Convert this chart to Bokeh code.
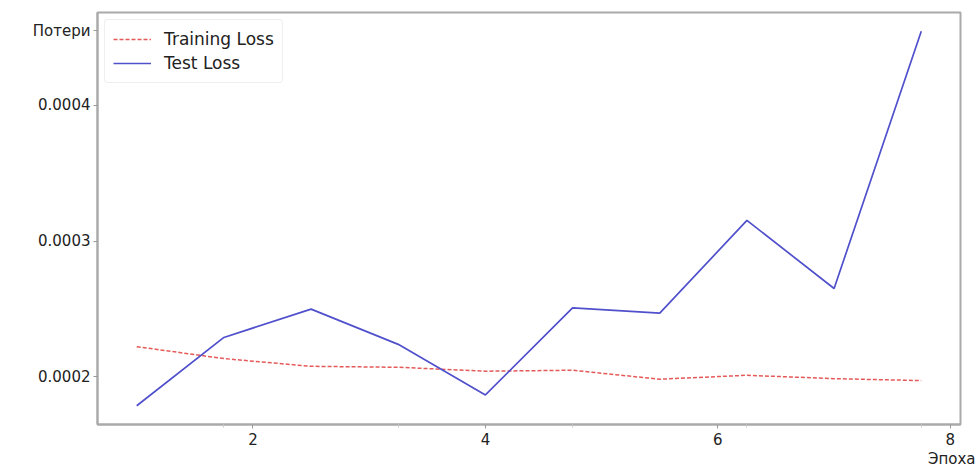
from bokeh.plotting import figure
from bokeh.models import Range1d, FixedTicker, Legend, LegendItem, CustomJSTickFormatter, Title
from bokeh.embed import file_html
from bokeh.resources import INLINE

epochs = [1.0, 1.75, 2.5, 3.25, 4.0, 4.75, 5.5, 6.25, 7.0, 7.75]
training_loss = [0.0002221, 0.0002133, 0.0002076, 0.0002069, 0.0002040,
                 0.0002047, 0.0001981, 0.0002010, 0.0001985, 0.0001971]
test_loss = [0.0001785, 0.0002289, 0.0002498, 0.0002238, 0.0001865,
             0.0002507, 0.0002468, 0.0003152, 0.0002650, 0.0004547]
x_ticks = [2, 4, 6, 8]
x_minor = [1.75, 3.25, 4.75, 6.25, 7.75]
y_ticks = [0.0002, 0.0003, 0.0004]
y_label = "Потери"
x_label = "Эпоха"

FONT = "DejaVu Sans"
Y_MIN, Y_MAX = 0.0001647, 0.0004685
# the y-axis title sits at the top-left, drawn as an extra labelled tick near the top
y_label_pos = Y_MAX - (Y_MAX - Y_MIN) * 18 / 412

p = figure(width=976, height=467, output_backend="svg", toolbar_location=None,
           x_range=Range1d(0.6625, 8.0875), y_range=Range1d(Y_MIN, Y_MAX),
           min_border_left=97, min_border_right=16, min_border_top=12, min_border_bottom=43)
p.grid.visible = False
p.background_fill_color = "white"
p.border_fill_color = "white"
p.outline_line_color = "#aaaaaa"
p.outline_line_width = 2

p.xaxis.ticker = FixedTicker(ticks=x_ticks, minor_ticks=x_minor)
p.yaxis.ticker = FixedTicker(ticks=y_ticks + [y_label_pos], minor_ticks=[])
p.yaxis.formatter = CustomJSTickFormatter(
    args=dict(lab=y_label, pos=y_label_pos),
    code="return Math.abs(tick - pos) < 1e-9 ? lab : tick.toFixed(4);")
for ax in (p.xaxis, p.yaxis):
    ax.axis_line_color = "#aaaaaa"
    ax.axis_line_width = 2
    ax.major_tick_line_color = "#999999"
    ax.major_tick_in = 0
    ax.major_tick_out = 4
    ax.minor_tick_line_color = "#cccccc"
    ax.minor_tick_in = 0
    ax.minor_tick_out = 3
    ax.major_label_text_font = FONT
    ax.major_label_text_font_size = "15px"
    ax.major_label_text_color = "#222222"
p.xaxis.major_label_standoff = 4
p.yaxis.major_label_standoff = 3

r_train = p.line(epochs, training_loss, line_color="#e03c3c", line_width=1.5,
                 line_dash="4 2", line_alpha=0.85)
r_test = p.line(epochs, test_loss, line_color="#5050cc", line_width=1.7)

legend = Legend(items=[LegendItem(label="Training Loss", renderers=[r_train]),
                       LegendItem(label="Test Loss", renderers=[r_test])],
                location="top_left")
legend.label_text_font = FONT
legend.label_text_font_size = "17px"
legend.label_text_color = "#222222"
legend.glyph_width = 38
legend.glyph_height = 22
legend.label_standoff = 13
legend.spacing = 2
legend.padding = 8
legend.margin = 7
legend.border_line_color = "#dddddd"
legend.border_line_width = 1.5
legend.border_radius = 4
legend.background_fill_alpha = 0.9
p.add_layout(legend)

p.add_layout(Title(text=x_label, align="right", offset=-15, standoff=0, text_font=FONT,
                   text_font_size="15px", text_font_style="normal", text_color="#222222"),
             "below")

open("out.html", "w").write(file_html(p, INLINE))
